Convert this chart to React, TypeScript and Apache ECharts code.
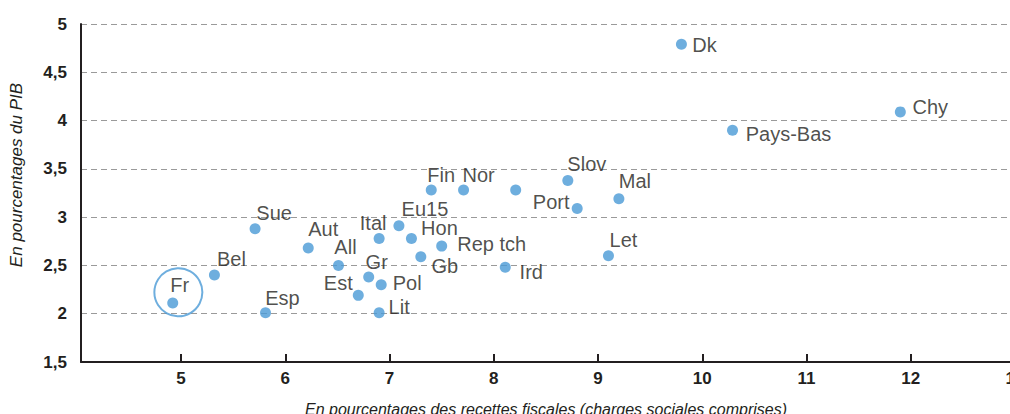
import React, { useEffect, useRef } from "react";
import * as echarts from "echarts";

const countries = ["Fr", "Bel", "Sue", "Esp", "Aut", "All", "Ital", "Gr", "Est", "Pol", "Lit", "Eu15", "Hon", "Rep tch", "Gb", "Ird", "Fin", "Nor", "", "Slov", "Port", "Mal", "Let", "Dk", "Pays-Bas", "Chy"];
const recettesFiscales = [4.92, 5.32, 5.71, 5.81, 6.22, 6.51, 6.9, 6.8, 6.7, 6.92, 6.9, 7.09, 7.21, 7.5, 7.3, 8.11, 7.4, 7.71, 8.21, 8.71, 8.8, 9.2, 9.1, 9.8, 10.29, 11.9];
const pctPIB = [2.11, 2.4, 2.88, 2.01, 2.68, 2.5, 2.78, 2.38, 2.19, 2.3, 2.01, 2.91, 2.78, 2.7, 2.59, 2.48, 3.28, 3.28, 3.28, 3.38, 3.09, 3.19, 2.6, 4.79, 3.9, 4.09];
// label offsets (layout only)
const labelOffsets: [number, number][] = [
  [7, -18], [17, -16], [19, -16], [17, -15], [15, -19], [7, -18], [-6, -15], [8, -15], [-20, -12], [26, -2], [20, -6], [26, -17], [28, -10], [50, -2], [24, 9], [26, 5], [10, -15], [15, -15], [0, 0], [19, -16], [-26, -6], [16, -18], [15, -16], [23, 1], [56, 4], [30, -5],
];
const highlight = [4.974, 2.222];
const xTicks = [5, 6, 7, 8, 9, 10, 11, 12, 13];
const xTitle = "En pourcentages des recettes fiscales (charges sociales comprises)";
const yTitle = "En pourcentages du PIB";

const FONT = "'Liberation Sans', Arial, sans-serif";
const TXT = "#231f20";

export default function App() {
  const ref = useRef<HTMLDivElement>(null);
  useEffect(() => {
    if (!ref.current) return;
    const chart = echarts.init(ref.current, null, { renderer: "svg" });
    const data = countries.map((n, i) => ({
      name: n,
      value: [recettesFiscales[i], pctPIB[i]],
      label: { offset: labelOffsets[i] },
    }));
    chart.setOption({
      animation: false,
      backgroundColor: "#ffffff",
      grid: { left: 81, top: 24, bottom: 52, right: -5, containLabel: false, outerBoundsMode: "none" },
      xAxis: {
        type: "value",
        min: 4.04,
        max: 13,
        axisLine: { show: true, lineStyle: { color: TXT, width: 2 } },
        axisTick: { show: true, inside: true, length: 8, lineStyle: { color: TXT, width: 2 }, customValues: xTicks },
        axisLabel: {
          customValues: xTicks,
          color: TXT,
          fontFamily: FONT,
          fontSize: 17,
          fontWeight: "bold",
          margin: 8,
          hideOverlap: false,
        },
        splitLine: { show: false },
      },
      yAxis: {
        type: "value",
        min: 1.5,
        max: 5,
        interval: 0.5,
        axisLine: { show: true, lineStyle: { color: TXT, width: 2 } },
        axisTick: { show: false },
        axisLabel: {
          color: TXT,
          fontFamily: FONT,
          fontSize: 17,
          fontWeight: "bold",
          margin: 14,
          formatter: (v: number) => String(v).replace(".", ","),
        },
        splitLine: { show: true, lineStyle: { color: "#9a9a9a", width: 1, type: [6, 4] } },
      },
      graphic: [
        {
          type: "text",
          x: 546,
          y: 409,
          style: {
            text: xTitle,
            fontFamily: FONT,
            fontSize: 16,
            fontStyle: "italic",
            fill: TXT,
            align: "center",
            verticalAlign: "middle",
          },
        },
        {
          type: "text",
          x: 16,
          y: 175,
          rotation: Math.PI / 2,
          style: {
            text: yTitle,
            fontFamily: FONT,
            fontSize: 17,
            fontStyle: "italic",
            fill: TXT,
            align: "center",
            verticalAlign: "middle",
          },
        },
      ],
      series: [
        {
          type: "scatter",
          symbolSize: 11,
          itemStyle: { color: "#4a9ad6" },
          data,
          label: {
            show: true,
            position: "inside",
            formatter: "{b}",
            color: TXT,
            fontFamily: FONT,
            fontSize: 20,
            align: "center",
            verticalAlign: "middle",
          },
          z: 3,
        },
        {
          type: "scatter",
          symbolSize: 48,
          silent: true,
          itemStyle: { color: "rgba(0,0,0,0)", borderColor: "#4a9ad6", borderWidth: 2 },
          data: [highlight],
          z: 2,
        },
      ],
    });
    return () => chart.dispose();
  }, []);
  return <div ref={ref} style={{ position: "fixed", left: 0, top: 0, width: 1010, height: 414 }} />;
}
